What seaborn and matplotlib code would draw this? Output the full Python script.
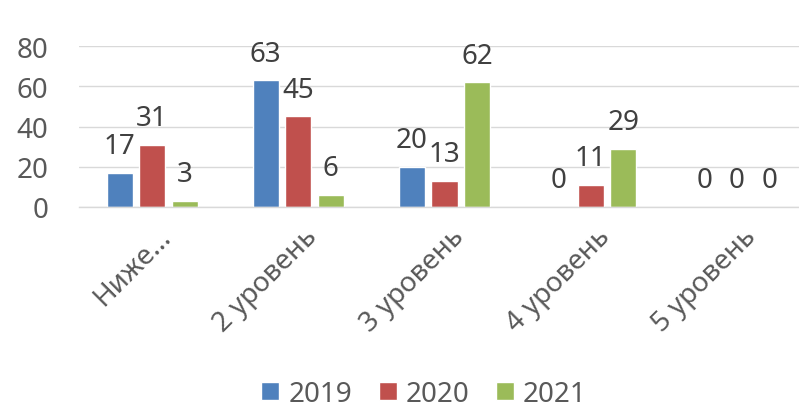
import matplotlib
matplotlib.use("Agg")
import matplotlib.pyplot as plt
import seaborn as sns
import pandas as pd
from matplotlib.transforms import ScaledTranslation

categories = ["Ниже...", "2 уровень", "3 уровень", "4 уровень", "5 уровень"]
years = ["2019", "2020", "2021"]
values_2019 = [17, 63, 20, 0, 0]
values_2020 = [31, 45, 13, 11, 0]
values_2021 = [3, 6, 62, 29, 0]
yticks = [0, 20, 40, 60, 80]
colors = ["#4F81BD", "#C0504D", "#9BBB59"]

rows = []
for year, vals in zip(years, [values_2019, values_2020, values_2021]):
    for cat, v in zip(categories, vals):
        rows.append({"category": cat, "year": year, "value": v})
df = pd.DataFrame(rows)

sns.set_theme(style="white")
plt.rcParams["font.family"] = ["Noto Sans", "DejaVu Sans"]

text_color = "#595959"
grid_color = "#D9D9D9"

fig = plt.figure(figsize=(7.99, 4.10), dpi=100)
ax = fig.add_axes([79 / 799, 202 / 410, (810 - 79) / 799, (208 - 47) / 410])

sns.barplot(data=df, x="category", y="value", hue="year", order=categories,
            hue_order=years, palette=colors, width=0.667, gap=0.2,
            saturation=1, errorbar=None, ax=ax)

for cont in ax.containers:
    ax.bar_label(cont, padding=9, fontsize=20, color="#404040")

ax.set_ylim(0, 80)
ax.set_yticks(yticks)
ax.set_xlim(-0.5, len(categories) - 0.5)
ax.yaxis.grid(True, color=grid_color, linewidth=1.0)
ax.set_axisbelow(True)
for s in ["top", "right", "left"]:
    ax.spines[s].set_visible(False)
ax.spines["bottom"].set_color(grid_color)
ax.spines["bottom"].set_linewidth(1.0)
ax.tick_params(axis="y", length=0, pad=22, labelsize=20, labelcolor=text_color)
ax.tick_params(axis="x", length=0)
ax.set_xticks(range(len(categories)))
ax.set_xticklabels([""] * len(categories))
ax.set_xlabel("")
ax.set_ylabel("")

off = ScaledTranslation(0.20, -0.30, fig.dpi_scale_trans)
for i, cat in enumerate(categories):
    ax.text(i, 0, cat, transform=ax.get_xaxis_transform() + off, rotation=45,
            ha="right", va="baseline", rotation_mode="anchor", fontsize=20,
            color=text_color)

handles, labels = ax.get_legend_handles_labels()
if ax.legend_ is not None:
    ax.legend_.remove()
fig.legend(handles, labels, loc="center", bbox_to_anchor=(424 / 799, 15 / 410),
           ncol=3, frameon=False, fontsize=20, handlelength=0.65,
           handleheight=0.6, handletextpad=0.32, columnspacing=0.96,
           labelcolor=text_color)

fig.savefig("out.png", dpi=100)
